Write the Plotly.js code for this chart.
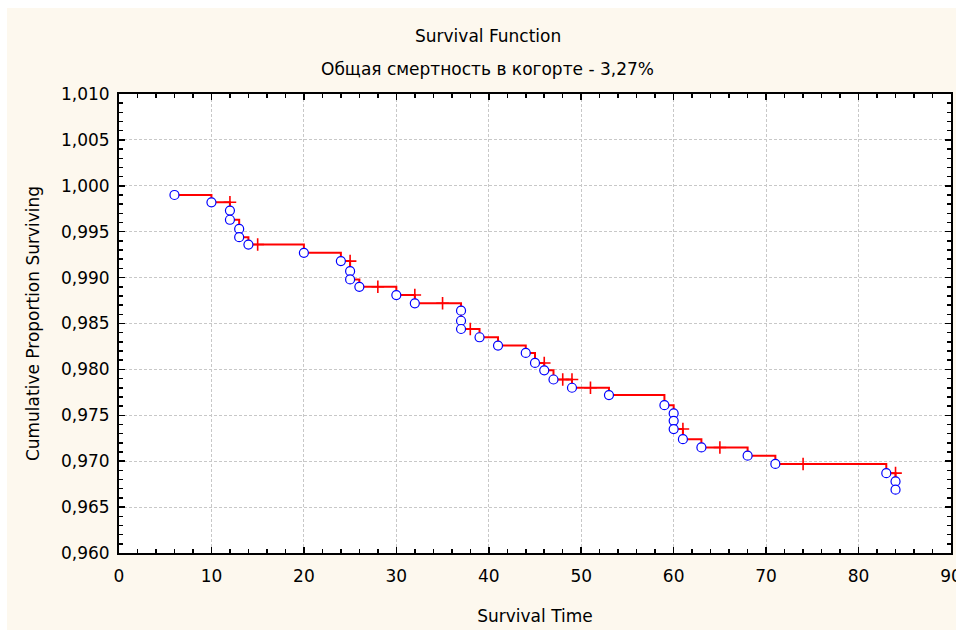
<!DOCTYPE html>
<html>
<head>
<meta charset="utf-8">
<script src="https://cdn.plot.ly/plotly-3.0.1.min.js"></script>
<style>
  html, body { margin: 0; padding: 0; background: #ffffff; }
  #chart { position: absolute; left: 7px; top: 8px; width: 949px; height: 622px; }
</style>
</head>
<body>
<div id="chart"></div>
<script>
// Complete (event) observations: time and cumulative proportion surviving after the event
const eventTime = [6,10,12,12,13,13,14,20,24,25,25,26,30,32,37,37,37,39,41,44,45,46,47,49,53,59,60,60,60,61,63,68,71,83,84,84];
const eventSurv = [0.9990,0.9982,0.9973,0.9963,0.9953,0.9944,0.9936,0.9927,0.9918,0.9907,0.9898,0.9890,0.9881,0.9872,0.9864,0.9853,0.9844,0.9835,0.9826,0.9818,0.9807,0.9799,0.9789,0.9780,0.9772,0.9761,0.9752,0.9744,0.9735,0.9724,0.9715,0.9706,0.9697,0.9687,0.9678,0.9669];

// Censored observations
const censorTime = [12,15,25,28,32,35,38,46,48,49,51,61,65,74,84];
const censorSurv = [0.9982,0.9936,0.9918,0.9890,0.9881,0.9872,0.9844,0.9807,0.9789,0.9789,0.9780,0.9735,0.9715,0.9697,0.9687];

const xTicks = [0,10,20,30,40,50,60,70,80,90];
const yTicks = [0.960,0.965,0.970,0.975,0.980,0.985,0.990,0.995,1.000,1.005,1.010];

const titleText = 'Survival Function';
const subtitleText = 'Общая смертность в когорте - 3,27%';
const xTitle = 'Survival Time';
const yTitle = 'Cumulative Proportion Surviving';

const FONT = 'DejaVu Sans, Liberation Sans, Arial, sans-serif';

const traces = [
  {
    x: eventTime, y: eventSurv, type: 'scatter', mode: 'lines',
    line: {shape: 'hv', color: '#ff0000', width: 2},
    hoverinfo: 'skip', showlegend: false
  },
  {
    x: censorTime, y: censorSurv, type: 'scatter', mode: 'markers',
    marker: {symbol: 'cross-thin-open', size: 9, color: '#ff0000', line: {color: '#ff0000', width: 1.6}},
    showlegend: false
  },
  {
    x: eventTime, y: eventSurv, type: 'scatter', mode: 'markers',
    marker: {symbol: 'circle', size: 9, color: '#ffffff', line: {color: '#0000ff', width: 1.2}},
    showlegend: false
  }
];

const axisCommon = {
  showline: true, linecolor: '#000000', linewidth: 2, mirror: 'allticks',
  ticks: 'inside', ticklen: 6, tickwidth: 1.5, tickcolor: '#000000',
  showgrid: true, gridcolor: '#c8c8c8', gridwidth: 1, griddash: '3px,2px',
  zeroline: false, ticklabeloverflow: 'allow',
  tickfont: {family: FONT, size: 17, color: '#000000'}
};

const layout = {
  width: 949, height: 622,
  paper_bgcolor: '#fdf8ee',
  plot_bgcolor: '#ffffff',
  separators: ', ',
  margin: {l: 112, r: 5, t: 86, b: 77},
  showlegend: false,
  title: {
    text: titleText, xref: 'container', x: 0.507, xanchor: 'center',
    yref: 'container', y: 0.955, yanchor: 'middle',
    font: {family: FONT, size: 17, color: '#000000'}
  },
  annotations: [{
    text: subtitleText, xref: 'paper', yref: 'paper',
    x: 0.4435, y: 1.0545, xanchor: 'center', yanchor: 'middle',
    showarrow: false, font: {family: FONT, size: 17, color: '#000000'}
  }],
  xaxis: Object.assign({}, axisCommon, {
    range: [0, 90], tickmode: 'array', tickvals: xTicks,
    ticktext: xTicks.map(String), ticklabelstandoff: 7,
    minor: {dtick: 2, ticks: 'inside', ticklen: 4, tickcolor: '#000000', tickwidth: 1.5, showgrid: false},
    title: {text: xTitle, standoff: 25, font: {family: FONT, size: 17, color: '#000000'}}
  }),
  yaxis: Object.assign({}, axisCommon, {
    range: [0.960, 1.010], tickmode: 'array', tickvals: yTicks,
    tickformat: '.3f', ticklabelstandoff: 4,
    minor: {dtick: 0.001, tick0: 0.960, ticks: 'inside', ticklen: 4, tickcolor: '#000000', tickwidth: 1.5, showgrid: false},
    title: {text: yTitle, standoff: 17, font: {family: FONT, size: 17, color: '#000000'}}
  })
};

Plotly.newPlot('chart', traces, layout, {displayModeBar: false, staticPlot: true});
</script>
</body>
</html>
